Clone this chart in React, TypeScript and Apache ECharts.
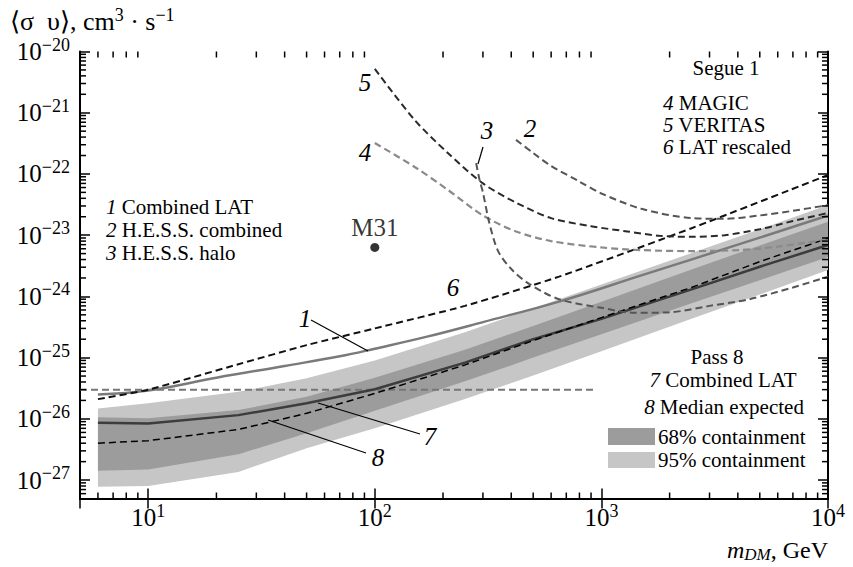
import React, { useEffect, useRef } from 'react';
import * as echarts from 'echarts';

const SERIF = 'Liberation Serif';

// Pass 8 mass grid (GeV) and bands / curves
const massGrid = [6, 10, 25, 50, 100, 250, 500, 1000, 2500, 5000, 10000];
const band95Low = [7.8e-28, 8.0e-28, 1.36e-27, 3.3e-27, 7.0e-27, 2.1e-26, 5.1e-26, 1.27e-25, 4.3e-25, 1.07e-24, 2.7e-24];
const band95High = [1.48e-26, 1.79e-26, 2.77e-26, 4.6e-26, 9.0e-26, 2.6e-25, 6.4e-25, 1.57e-24, 5.1e-24, 1.25e-23, 3.1e-23];
const band68Low = [1.42e-27, 1.49e-27, 2.65e-27, 5.8e-27, 1.36e-26, 4.1e-26, 1.0e-25, 2.4e-25, 7.7e-25, 1.84e-24, 4.4e-24];
const band68High = [1.06e-26, 1.02e-26, 1.39e-26, 2.3e-26, 4.7e-26, 1.35e-25, 3.3e-25, 8.2e-25, 2.75e-24, 6.8e-24, 1.66e-23];
const pass8Combined = [8.6e-27, 8.4e-27, 1.15e-26, 1.8e-26, 3.05e-26, 8.3e-26, 2.0e-25, 4.3e-25, 1.3e-24, 3.05e-24, 6.9e-24];
const pass8Median = [4.0e-27, 4.4e-27, 6.7e-27, 1.23e-26, 2.6e-26, 7.6e-26, 1.9e-25, 4.5e-25, 1.4e-24, 3.7e-24, 8.9e-24];

// 1 Combined LAT (older)
const latCombinedMass = [6, 10, 20, 40, 70, 100, 170, 300, 650, 1500, 4000, 10000];
const latCombined = [2.5e-26, 2.9e-26, 4.7e-26, 7.3e-26, 1.05e-25, 1.4e-25, 2.2e-25, 3.8e-25, 8.2e-25, 2.2e-24, 7.0e-24, 2.1e-23];

// 6 LAT rescaled
const latRescaledMass = [6, 10, 25, 50, 100, 250, 650, 2500, 10000];
const latRescaled = [2.1e-26, 3.0e-26, 7.8e-26, 1.6e-25, 3.0e-25, 7.0e-25, 2.1e-24, 1.3e-23, 9.6e-23];

// 5 VERITAS
const veritasMass = [100, 150, 210, 300, 420, 600, 900, 1300, 1800, 2500, 3500, 5000, 7000, 10000];
const veritas = [5.2e-21, 7.6e-22, 2.2e-22, 7e-23, 3.4e-23, 1.9e-23, 1.4e-23, 1.15e-23, 9.8e-24, 9.4e-24, 1.0e-23, 1.25e-23, 1.7e-23, 2.3e-23];

// 4 MAGIC
const magicMass = [100, 150, 210, 300, 420, 600, 1000, 1500, 2500, 4000, 6000, 10000];
const magic = [3.2e-22, 1.3e-22, 5.5e-23, 2.1e-23, 1.15e-23, 8e-24, 6.3e-24, 5.7e-24, 5.5e-24, 5.7e-24, 6.5e-24, 8.5e-24];

// 2 H.E.S.S. combined
const hessCombMass = [420, 500, 600, 800, 1000, 1500, 2500, 3500, 5000, 7000, 10000];
const hessComb = [3.6e-22, 2.2e-22, 1.35e-22, 7.5e-23, 4.8e-23, 2.7e-23, 1.9e-23, 1.85e-23, 2.1e-23, 2.5e-23, 3.1e-23];

// 3 H.E.S.S. halo
const hessHaloMass = [280, 290, 300, 320, 350, 400, 480, 650, 1000, 1400, 2000, 3000, 4500, 7000, 10000];
const hessHalo = [1.5e-22, 8e-23, 5e-23, 1.6e-23, 5.5e-24, 2.8e-24, 1.6e-24, 9e-25, 6.5e-25, 5.4e-25, 5.5e-25, 7e-25, 9e-25, 1.4e-24, 2.1e-24];

// thermal relic line
const thermalMass = [5, 930];
const thermal = [3e-26, 3e-26];

// M31 point
const m31 = [[100, 6.3e-24]];

const X_MIN = 5, X_MAX = 10000, Y_MIN = 5e-28, Y_MAX = 1e-20;

const pairs = (xs: number[], ys: number[]) => xs.map((x, i) => [x, ys[i]]);

const xMinor: number[] = [];
for (let k = 0; k <= 3; k++) for (let m = 2; m <= 9; m++) { const v = m * Math.pow(10, k); if (v > X_MIN && v < X_MAX) xMinor.push(v); }
const yMinor: number[] = [];
for (let k = -28; k <= -21; k++) for (let m = 2; m <= 9; m++) { const v = m * Math.pow(10, k); if (v > Y_MIN * 1.01 && v < Y_MAX) yMinor.push(v); }

const tickFmt = (v: number) => {
  const e = Math.log10(v);
  const r = Math.round(e);
  if (Math.abs(e - r) > 1e-6) return '';
  return '{b|10}{s|' + String(r).replace('-', '\u2212') + '}';
};
const tickRich = {
  b: { fontSize: 25, fontFamily: SERIF, color: '#000', lineHeight: 32 },
  s: { fontSize: 18, fontFamily: SERIF, color: '#000', verticalAlign: 'top', lineHeight: 17 },
};

const TXT_RICH: any = {
  n: { fontSize: 21, fontFamily: SERIF, fill: '#000' },
  i: { fontSize: 21, fontFamily: SERIF, fontStyle: 'italic', fill: '#000' },
  big: { fontSize: 25, fontFamily: SERIF, fontStyle: 'italic', fill: '#000' },
};

function text(x: number, y: number, t: string, align = 'left') {
  return {
    type: 'text', x, y, z: 100,
    style: {
      text: t, rich: TXT_RICH, fontSize: 21, fontFamily: SERIF, fill: '#000',
      align, verticalAlign: 'middle', textAlign: align, textVerticalAlign: 'middle',
    },
  };
}
function line(x1: number, y1: number, x2: number, y2: number) {
  return { type: 'line', z: 100, shape: { x1, y1, x2, y2 }, style: { stroke: '#000', lineWidth: 1.2 } };
}

function bandSeries(low: number[], high: number[], color: string, z: number) {
  return {
    type: 'custom', coordinateSystem: 'cartesian2d', z, silent: true,
    data: massGrid.map((m, i) => [m, low[i]]),
    renderItem: (params: any, api: any) => {
      if (params.dataIndex !== 0) return null;
      const pts: number[][] = [];
      massGrid.forEach((m, i) => pts.push(api.coord([m, high[i]])));
      for (let i = massGrid.length - 1; i >= 0; i--) pts.push(api.coord([massGrid[i], low[i]]));
      return { type: 'polygon', shape: { points: pts }, style: { fill: color } };
    },
  };
}

function lineSeries(name: string, xs: number[], ys: number[], color: string, width: number, dashed: boolean, z: number, smooth: number | boolean = false) {
  return {
    name, type: 'line', data: pairs(xs, ys), symbol: 'none', z, smooth,
    lineStyle: { color, width, type: dashed ? [7, 4] : 'solid' },
    silent: true,
  };
}

export default function App() {
  const ref = useRef<HTMLDivElement>(null);
  useEffect(() => {
    const chart = echarts.init(ref.current!, null, { renderer: 'svg' });
    const axisCommon = {
      type: 'log', logBase: 10,
      axisLine: { show: true, lineStyle: { color: '#000', width: 2 } },
      axisTick: { show: true, inside: true, length: 10, lineStyle: { color: '#000', width: 1.5 } },
      splitLine: { show: false },
      minorTick: { show: false },
    };
    const option: any = {
      animation: false,
      backgroundColor: '#fff',
      textStyle: { fontFamily: SERIF },
      grid: { left: 80, right: 25, top: 51.5, bottom: 68.5, containLabel: false },
      xAxis: [
        { ...axisCommon, min: X_MIN, max: X_MAX, position: 'bottom',
          axisLabel: { show: true, margin: 3, fontFamily: SERIF, formatter: tickFmt, rich: tickRich, showMinLabel: false } },
        { ...axisCommon, min: X_MIN, max: X_MAX, position: 'top', axisLabel: { show: false } },
      ],
      yAxis: [
        { ...axisCommon, min: Y_MIN, max: Y_MAX, position: 'left',
          axisLabel: { show: true, margin: 10, fontFamily: SERIF, formatter: tickFmt, rich: tickRich, showMinLabel: false } },
        { ...axisCommon, min: Y_MIN, max: Y_MAX, position: 'right', axisLabel: { show: false } },
      ],
      series: [
        bandSeries(band95Low, band95High, '#c6c6c6', 1),
        bandSeries(band68Low, band68High, '#9c9c9c', 2),
        lineSeries('thermal', thermalMass, thermal, '#777', 2, true, 3),
        lineSeries('1', latCombinedMass, latCombined, '#7a7a7a', 2.5, false, 4, 0.4),
        lineSeries('7', massGrid, pass8Combined, '#3c3c3c', 2.5, false, 5),
        lineSeries('8', massGrid, pass8Median, '#000', 1.5, true, 6),
        lineSeries('6', latRescaledMass, latRescaled, '#111', 2, true, 6, 0.2),
        lineSeries('5', veritasMass, veritas, '#2a2a2a', 2, true, 6, 0.3),
        lineSeries('4', magicMass, magic, '#8a8a8a', 2.2, true, 6, 0.3),
        lineSeries('2', hessCombMass, hessComb, '#555', 2, true, 6, 0.3),
        lineSeries('3', hessHaloMass, hessHalo, '#555', 2, true, 6, 0.3),
        {
          type: 'scatter', data: m31, symbol: 'circle', symbolSize: 9, z: 7, silent: true,
          itemStyle: { color: '#000' },
          label: { show: true, position: 'top', distance: 3, formatter: 'M31', fontSize: 25, fontFamily: SERIF, color: '#000' },
        },
        {
          type: 'custom', coordinateSystem: 'cartesian2d', z: 20, silent: true,
          data: xMinor.map((v) => [v, 1e-24]),
          renderItem: (params: any, api: any) => {
            const p = api.coord([api.value(0), 1e-24]);
            const cs = params.coordSys;
            const yb = cs.y + cs.height, yt = cs.y;
            return { type: 'group', children: [
              { type: 'line', shape: { x1: p[0], y1: yb, x2: p[0], y2: yb - 6 }, style: { stroke: '#000', lineWidth: 1.5 } },
              { type: 'line', shape: { x1: p[0], y1: yt, x2: p[0], y2: yt + 6 }, style: { stroke: '#000', lineWidth: 1.5 } },
            ] };
          },
        },
        {
          type: 'custom', coordinateSystem: 'cartesian2d', z: 20, silent: true,
          data: yMinor.map((v) => [100, v]),
          renderItem: (params: any, api: any) => {
            const p = api.coord([100, api.value(1)]);
            const cs = params.coordSys;
            const xl = cs.x, xr = cs.x + cs.width;
            return { type: 'group', children: [
              { type: 'line', shape: { x1: xl, y1: p[1], x2: xl + 6, y2: p[1] }, style: { stroke: '#000', lineWidth: 1.5 } },
              { type: 'line', shape: { x1: xr, y1: p[1], x2: xr - 6, y2: p[1] }, style: { stroke: '#000', lineWidth: 1.5 } },
            ] };
          },
        },
      ],
      graphic: [
        // axis names
        { type: 'text', x: 10, y: 21, z: 100, style: {
          text: '{n|\u27E8\u03C3\u2002\u03C5\u27E9, cm}{sup|3}{n| \u00B7 s}{sup|\u22121}', fontSize: 26, fontFamily: SERIF, fill: '#000',
          align: 'left', verticalAlign: 'middle', textAlign: 'left', textVerticalAlign: 'middle',
          rich: {
            n: { fontSize: 26, fontFamily: SERIF, lineHeight: 30, fill: '#000' },
            sup: { fontSize: 18, fontFamily: SERIF, verticalAlign: 'top', lineHeight: 16, fill: '#000' },
          } } },
        { type: 'text', x: 828, y: 550, z: 100, style: {
          text: '{i|m}{sub|DM}{n|, GeV}', fontSize: 24, fontFamily: SERIF, fill: '#000',
          align: 'right', verticalAlign: 'middle', textAlign: 'right', textVerticalAlign: 'middle',
          rich: {
            i: { fontSize: 24, fontStyle: 'italic', fontFamily: SERIF, lineHeight: 26, fill: '#000' },
            sub: { fontSize: 17, fontStyle: 'italic', fontFamily: SERIF, verticalAlign: 'bottom', lineHeight: 16, fill: '#000' },
            n: { fontSize: 24, fontFamily: SERIF, lineHeight: 26, fill: '#000' },
          } } },
        // left legend
        text(106, 207, '{i|1}{n| Combined LAT}'),
        text(106, 230, '{i|2}{n| H.E.S.S. combined}'),
        text(106, 253, '{i|3}{n| H.E.S.S. halo}'),
        // segue legend
        text(726, 68, '{n|Segue 1}', 'center'),
        text(663, 103, '{i|4}{n| MAGIC}'),
        text(663, 125, '{i|5}{n| VERITAS}'),
        text(663, 147, '{i|6}{n| LAT rescaled}'),
        // pass 8 legend
        text(717, 357, '{n|Pass 8}', 'center'),
        text(723, 380, '{i|7}{n| Combined LAT}', 'center'),
        text(724, 407, '{i|8}{n| Median expected}', 'center'),
        { type: 'rect', z: 100, shape: { x: 608, y: 428, width: 47, height: 17 }, style: { fill: '#9c9c9c' } },
        { type: 'rect', z: 100, shape: { x: 608, y: 452, width: 47, height: 16 }, style: { fill: '#c6c6c6' } },
        text(658, 437, '{n|68% containment}'),
        text(658, 460, '{n|95% containment}'),
        // curve numbers
        text(365, 82, '{big|5}', 'center'),
        text(365, 152, '{big|4}', 'center'),
        text(487, 130, '{big|3}', 'center'),
        line(483, 147, 478, 164),
        text(530, 128, '{big|2}', 'center'),
        text(305, 318, '{big|1}', 'center'),
        line(311, 320, 368, 351),
        text(453, 287, '{big|6}', 'center'),
        text(430, 436, '{big|7}', 'center'),
        line(318, 403, 420, 434),
        text(378, 457, '{big|8}', 'center'),
        line(268, 420, 366, 453),
      ],
    };
    chart.setOption(option);
    return () => chart.dispose();
  }, []);
  return <div ref={ref} style={{ position: 'absolute', left: 0, top: 0, width: 853, height: 567 }} />;
}
